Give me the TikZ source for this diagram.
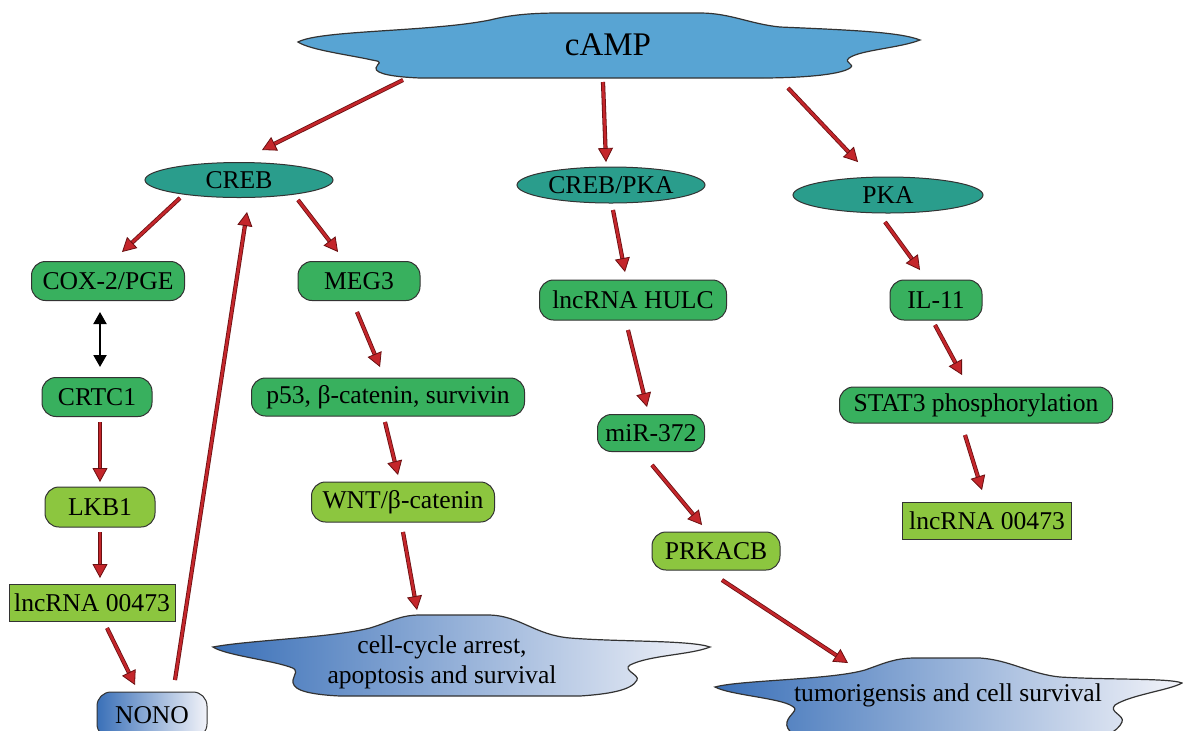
\documentclass[tikz,border=0pt]{standalone}
\usepackage{fontspec}
\setmainfont{Liberation Serif}
\usetikzlibrary{shapes.geometric,arrows.meta,calc}
\definecolor{edge}{HTML}{333333}
\definecolor{tealc}{HTML}{2A9D8C}
\definecolor{mgreen}{HTML}{38B05E}
\definecolor{lgreen}{HTML}{8CC63F}
\definecolor{cloudb}{HTML}{58A4D3}
\definecolor{gblue}{HTML}{3A70B8}
\definecolor{gwhite}{HTML}{F2F3F9}
\definecolor{arrred}{HTML}{C4262B}
\definecolor{arrdark}{HTML}{6A1012}
\tikzset{
  lbl/.style={font=\fontsize{12.8}{15}\selectfont, inner sep=0pt},
  ell/.style={lbl, ellipse, draw=edge, line width=0.5pt, fill=tealc},
  gbox/.style={lbl, rounded corners=7pt, draw=edge, line width=0.5pt, fill=mgreen},
  lbox/.style={lbl, rounded corners=7pt, draw=edge, line width=0.5pt, fill=lgreen},
  rbox/.style={lbl, rectangle, draw=edge, line width=0.5pt, fill=lgreen},
  cloudline/.style={draw=edge, line width=0.6pt},
  arr/.style={draw=arrred, line width=1.3pt,
    -{Triangle[length=7pt,width=7.5pt,fill=arrred,color=arrdark,line width=0.4pt]},
    preaction={draw=arrdark, line width=2.1pt, -, shorten >=5pt}},
  dbl/.style={draw=black, line width=1pt,
    {Triangle[length=6pt,width=6.5pt]}-{Triangle[length=6pt,width=6.5pt]}}
}
\begin{document}
\begin{tikzpicture}[x=0.5pt,y=-0.5pt]
\useasboundingbox (0,0) rectangle (1183,730);
\clip (0,0) rectangle (1183,730);
\fill[white] (0,0) rectangle (1183,730);

% cAMP cloud
\path[cloudline, fill=cloudb] (298,42)
  .. controls (320,30) and (430,32) .. (490,20)
  .. controls (510,15) and (530,13) .. (560,13) -- (700,13)
  .. controls (730,13) and (750,24) .. (780,27)
  .. controls (850,30) and (900,32) .. (920,40)
  .. controls (900,48) and (860,50) .. (849,58)
  .. controls (843,63) and (856,64) .. (850,68)
  .. controls (840,75) and (800,78) .. (760,78) -- (420,78)
  .. controls (395,77) and (375,74) .. (376,68)
  .. controls (377,63) and (385,62) .. (372,60)
  .. controls (350,55) and (310,50) .. (298,42) -- cycle;
\node[inner sep=0pt, font=\fontsize{16.5}{18}\selectfont] (camp) at (608,45) {cAMP};

% cell-cycle cloud
\path[cloudline, left color=gblue, right color=gwhite] (213,647)
  .. controls (250,640) and (330,638) .. (370,628)
  .. controls (390,622) and (400,615) .. (420,615) -- (490,615)
  .. controls (520,616) and (535,635) .. (570,638)
  .. controls (620,642) and (690,640) .. (710,647)
  .. controls (690,655) and (650,655) .. (630,665)
  .. controls (622,670) and (640,675) .. (637,680)
  .. controls (632,690) and (610,694) .. (580,696) -- (340,696)
  .. controls (300,694) and (292,688) .. (293,680)
  .. controls (294,674) and (300,670) .. (290,667)
  .. controls (270,660) and (225,655) .. (213,647) -- cycle;
\node[lbl, align=center] (cell) at (442,662) {cell-cycle arrest,\\apoptosis and survival};

% tumorigensis cloud
\path[cloudline, left color=gblue, right color=gwhite] (715,687)
  .. controls (740,680) and (830,680) .. (865,670)
  .. controls (885,663) and (895,658) .. (915,658) -- (980,658)
  .. controls (1010,660) and (1030,674) .. (1060,677)
  .. controls (1110,680) and (1170,678) .. (1182,683)
  .. controls (1170,690) and (1130,695) .. (1115,705)
  .. controls (1108,712) and (1125,715) .. (1122,722)
  .. controls (1118,732) and (1100,740) .. (1080,742) -- (820,742)
  .. controls (795,740) and (785,730) .. (787,722)
  .. controls (789,714) and (800,710) .. (792,706)
  .. controls (780,698) and (730,695) .. (715,687) -- cycle;
\node[lbl] (tumor) at (948,695) {tumorigensis and cell survival};

% nodes
\node[ell, minimum width=94pt, minimum height=17.5pt] (creb) at (239,180) {CREB};
\node[ell, minimum width=94pt, minimum height=18pt] (crebpka) at (611,185) {CREB/PKA};
\node[ell, minimum width=95pt, minimum height=18pt] (pka) at (888,195) {PKA};

\node[gbox, minimum width=76.5pt, minimum height=19.5pt] (cox) at (108,281) {COX-2/PGE};
\node[gbox, minimum width=61pt, minimum height=19.5pt] (meg) at (359,281) {MEG3};
\node[gbox, minimum width=55pt, minimum height=19.5pt] (crtc) at (97,397) {CRTC1};
\node[lbox, minimum width=55pt, minimum height=20pt] (lkb) at (100,507) {LKB1};
\node[rbox, minimum width=83pt, minimum height=18.5pt] (lncl) at (92,603) {lncRNA 00473};
\node[lbl, rounded corners=7pt, draw=edge, line width=0.5pt, left color=gblue, right color=gwhite,
      minimum width=55pt, minimum height=23pt] (nono) at (152,715) {NONO};

\node[gbox, minimum width=136.5pt, minimum height=19pt] (p53) at (388,397) {p53, β-catenin, survivin};
\node[lbox, minimum width=91.5pt, minimum height=20pt] (wnt) at (403,502) {WNT/β-catenin};

\node[gbox, minimum width=93.5pt, minimum height=20pt] (hulc) at (633,300) {lncRNA HULC};
\node[gbox, minimum width=53.5pt, minimum height=18.5pt] (mir) at (651,433) {miR-372};
\node[lbox, minimum width=64pt, minimum height=19pt] (prk) at (716,551) {PRKACB};

\node[gbox, minimum width=46pt, minimum height=20pt] (il) at (936,300) {IL-11};
\node[gbox, minimum width=136.5pt, minimum height=18pt] (stat) at (976,405) {STAT3 phosphorylation};
\node[rbox, minimum width=84.5pt, minimum height=18.5pt] (lncr) at (987,521) {lncRNA 00473};

% connectors
\draw[arr] ($(camp)+(-205,35)$) -- ($(creb)+(23,-30)$);
\draw[arr] ($(camp)+(-5,37)$) -- ($(crebpka)+(-5,-23)$);
\draw[arr] ($(camp)+(180,43)$) -- ($(pka)+(-30,-33)$);

\draw[arr] ($(creb)+(-59,18)$) -- ($(cox)+(14,-29)$);
\draw[arr] ($(creb)+(59,20)$) -- ($(meg)+(-21,-29)$);
\draw[dbl] ($(cox)+(-8,31)$) -- ($(crtc)+(3,-30)$);
\draw[arr] ($(nono)+(23,-35)$) -- ($(creb)+(8,32)$);
\draw[arr] ($(crtc)+(3,25)$) -- ($(lkb)+(0,-25)$);
\draw[arr] ($(lkb)+(0,25)$) -- ($(lncl)+(8,-25)$);
\draw[arr] ($(lncl)+(15,25)$) -- ($(nono)+(-17,-30)$);

\draw[arr] ($(meg)+(-2,31)$) -- ($(p53)+(-8,-30)$);
\draw[arr] ($(p53)+(-3,25)$) -- ($(wnt)+(-5,-27)$);
\draw[arr] ($(wnt)+(0,30)$) -- ($(cell)+(-25,-52)$);

\draw[arr] ($(crebpka)+(2,25)$) -- ($(hulc)+(-8,-28)$);
\draw[arr] ($(hulc)+(-5,30)$) -- ($(mir)+(-4,-26)$);
\draw[arr] ($(mir)+(1,32)$) -- ($(prk)+(-14,-26)$);
\draw[arr] ($(prk)+(6,29)$) -- ($(tumor)+(-100,-32)$);

\draw[arr] ($(pka)+(-3,27)$) -- ($(il)+(-16,-30)$);
\draw[arr] ($(il)+(-1,25)$) -- ($(stat)+(-14,-30)$);
\draw[arr] ($(stat)+(-11,30)$) -- ($(lncr)+(-5,-31)$);
\end{tikzpicture}
\end{document}
